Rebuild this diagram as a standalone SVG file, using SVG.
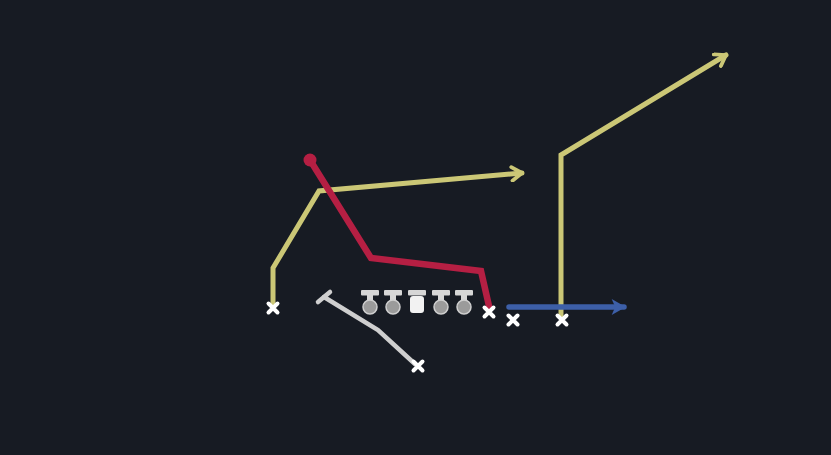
<svg xmlns="http://www.w3.org/2000/svg" width="831" height="455" viewBox="0 0 831 455">
<defs>
<style>
.route{fill:none;stroke-linecap:round;stroke-linejoin:miter}
.yel{stroke:#cbc776;stroke-width:5}
.red{stroke:#b51f43;stroke-width:6.5}
.blue{stroke:#3d5fa8;stroke-width:5.5}
.gray{stroke:#cfcfcf;stroke-width:4.5}
.xm{stroke:#ffffff;stroke-width:4;stroke-linecap:round}
.ol-bar{fill:#d6d6d6}
.ol-ball{fill:#9b9b9b;stroke:#cfcfcf;stroke-width:1.5}
</style>
<marker id="arrY" viewBox="0 0 10 10" refX="8" refY="5" markerWidth="3.4" markerHeight="3.4" orient="auto" markerUnits="strokeWidth">
<path d="M2,1 L8,5 L2,9" fill="none" stroke="#cbc776" stroke-width="2.2" stroke-linecap="round" stroke-linejoin="round"/>
</marker>
<marker id="arrB" viewBox="0 0 10 10" refX="8" refY="5" markerWidth="3.2" markerHeight="3.2" orient="auto" markerUnits="strokeWidth">
<path d="M1,0.5 L9,5 L1,9.5 L3,5 Z" fill="#3d5fa8"/>
</marker>
<g id="xmark"><path class="xm" d="M-4.5,-4.5 L4.5,4.5 M4.5,-4.5 L-4.5,4.5"/></g>
<g id="lineman">
<rect class="ol-bar" x="-9" y="0" width="18" height="5.5" rx="1"/>
<rect class="ol-bar" x="-3" y="4" width="6" height="9"/>
<circle class="ol-ball" cx="0" cy="17" r="7"/>
</g>
</defs>
<rect width="831" height="455" fill="#171b23"/>

<g id="connectors">
<path id="route-left" class="route yel" d="M273,304 L273,268 L319,191 L522,173" marker-end="url(#arrY)"/>
<path id="route-right" class="route yel" d="M561,316 L561,155 L726,55" marker-end="url(#arrY)"/>
<path id="route-red" class="route red" d="M310,160 L371,258 L481,271 L489,306"/>
<circle cx="310" cy="160" r="6.5" fill="#b51f43"/>
<path id="motion-blue" class="route blue" d="M509,307 L624,307" marker-end="url(#arrB)"/>
<path id="route-gray" class="route gray" d="M415,364 L378,330 L324,297"/>
<path class="route gray" d="M318,302 L330,292"/>
</g>

<g id="node-wr-left"><use href="#xmark" x="273" y="308"/></g>
<g id="node-te"><use href="#xmark" x="489" y="312"/></g>
<g id="node-wr-slot"><use href="#xmark" x="513" y="320"/></g>
<g id="node-wr-right"><use href="#xmark" x="562" y="320"/></g>
<g id="node-rb"><use href="#xmark" x="418" y="366"/></g>

<g id="node-lt"><use href="#lineman" x="370" y="290"/></g>
<g id="node-lg"><use href="#lineman" x="393" y="290"/></g>
<g id="node-c">
<rect class="ol-bar" x="408" y="290" width="18" height="5.5" rx="1"/>
<rect x="410" y="296" width="14" height="17" rx="3" fill="#f2f2f2"/>
</g>
<g id="node-rg"><use href="#lineman" x="441" y="290"/></g>
<g id="node-rt"><use href="#lineman" x="464" y="290"/></g>
</svg>
